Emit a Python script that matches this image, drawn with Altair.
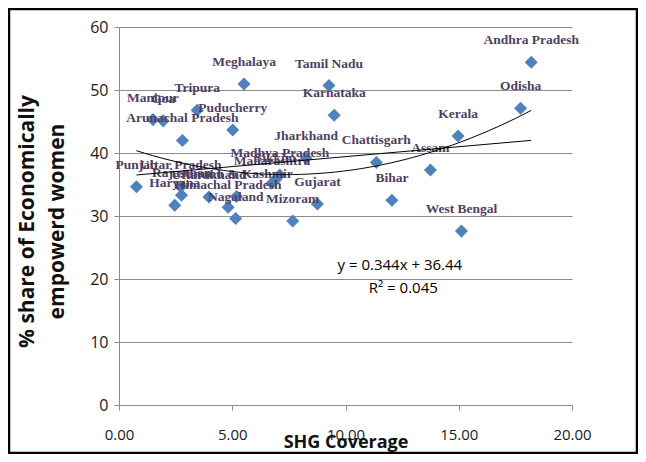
import altair as alt
import pandas as pd

# ---- data ----
states = ["Andhra Pradesh", "Odisha", "Kerala", "West Bengal", "Assam", "Bihar",
          "Chattisgarh", "Karnataka", "Tamil Nadu", "Gujarat", "Jharkhand", "Mizoram",
          "Madhya Pradesh", "Maharashtra", "Sikkim", "Meghalaya", "Puducherry",
          "Jammu & Kashmir", "Nagaland", "Himachal Pradesh", "Uttarakhand", "Tripura",
          "Arunachal Pradesh", "Rajasthan", "Uttar Pradesh", "Haryana", "Goa",
          "Manipur", "Punjab"]
shg = [18.2, 17.73, 14.97, 15.12, 13.75, 12.05,
       11.36, 9.5, 9.27, 8.76, 8.26, 7.67,
       7.1, 6.75, 6.9, 5.52, 5.02,
       5.19, 5.15, 4.82, 3.97, 3.45,
       2.8, 2.76, 2.72, 2.46, 1.95,
       1.5, 0.77]
women = [54.4, 47.1, 42.7, 27.6, 37.3, 32.5,
         38.5, 46.0, 50.7, 31.9, 39.2, 29.2,
         36.5, 35.2, 35.7, 50.95, 43.65,
         33.1, 29.6, 31.4, 33.0, 46.8,
         42.0, 33.3, 34.65, 31.7, 45.1,
         45.3, 34.65]

x_ticks = [0, 5, 10, 15, 20]
y_ticks = [0, 10, 20, 30, 40, 50, 60]

ann_x = [12.4, 12.55]
ann_y = [22.2, 18.6]
ann_text = ["y = 0.344x + 36.44", "R\u00b2 = 0.045"]

df = pd.DataFrame({"state": states, "shg": shg, "women": women})
ann = pd.DataFrame({"x": ann_x, "y": ann_y, "t": ann_text})

W, H = 453, 378
GRID = "#8c8c8c"

xenc = alt.X("shg:Q", scale=alt.Scale(domain=[0, 20], nice=False),
             axis=alt.Axis(values=x_ticks, format=".2f", grid=False,
                           domainColor=GRID, tickColor=GRID, tickSize=5,
                           labelFont="Open Sans", labelFontSize=15, labelColor="#1a1a1a",
                           labelPadding=17, labelFlush=False,
                           title="SHG Coverage", titleFont="Open Sans", titleFontSize=18,
                           titleFontWeight="bold", titleColor="#111111",
                           titleY=37, titleBaseline="middle"))
yenc = alt.Y("women:Q", scale=alt.Scale(domain=[0, 60], nice=False),
             axis=alt.Axis(values=y_ticks, grid=True, gridColor=GRID, gridWidth=1,
                           domainColor=GRID, tickColor=GRID, tickSize=5,
                           labelFont="Open Sans", labelFontSize=16, labelColor="#1a1a1a",
                           labelPadding=6,
                           title=["% share of Economically", "empowerd women"],
                           titleFont="Open Sans", titleFontSize=21, titleFontWeight="bold",
                           titleColor="#111111", titleLineHeight=30,
                           titleX=-82, titleY=H / 2 + 5, titleBaseline="bottom",
                           titleAlign="center", titleAngle=270))

base = alt.Chart(df)

points = base.mark_point(shape="diamond", filled=True, size=170, color="#4F81BD",
                         opacity=1).encode(x=xenc, y=yenc)

labels = base.mark_text(dy=-22, font="Liberation Serif", fontWeight="bold",
                        fontSize=13.5, color="#4f3f63").encode(
    x="shg:Q", y="women:Q", text="state:N")

lin = base.transform_regression("shg", "women").mark_line(
    color="black", strokeWidth=1).encode(x="shg:Q", y="women:Q")

poly = base.transform_regression("shg", "women", method="poly", order=2).mark_line(
    color="black", strokeWidth=1).encode(x="shg:Q", y="women:Q")

eq = alt.Chart(ann).mark_text(font="Open Sans", fontSize=15, color="black").encode(
    x="x:Q", y="y:Q", text="t:N")

frame = alt.Chart(pd.DataFrame({"k": [0]})).mark_rect(
    filled=False, stroke="black", strokeWidth=2.5).encode(
    x=alt.value(-110), x2=alt.value(518), y=alt.value(-18), y2=alt.value(426))

chart = alt.layer(points, labels, lin, poly, eq, frame).properties(
    width=W, height=H,
    autosize=alt.AutoSizeParams(type="none"),
    padding={"left": 111, "top": 19, "right": 66, "bottom": 49},
    background="white",
).configure_view(stroke=None)

chart.save("out.html", embed_options={"renderer": "svg", "actions": False})
